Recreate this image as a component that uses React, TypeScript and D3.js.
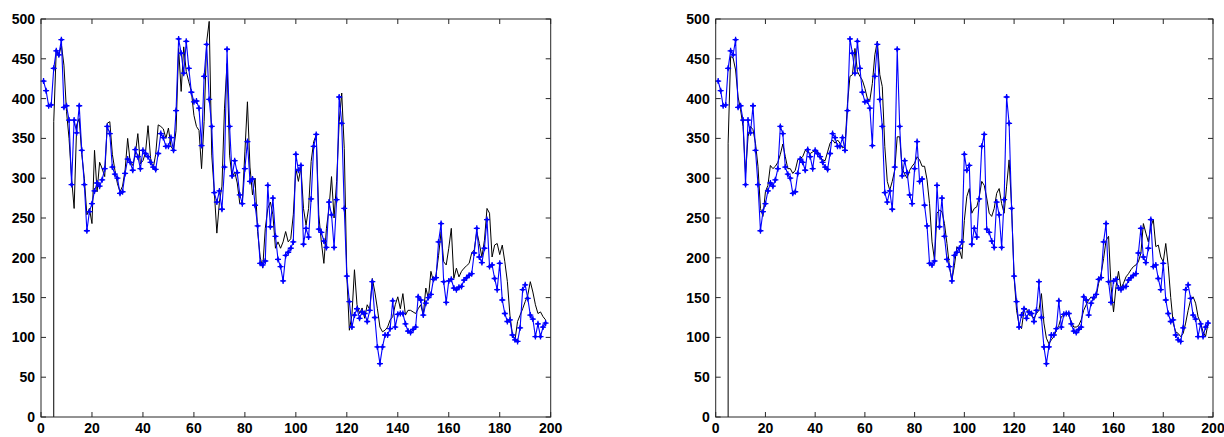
import React from "react";
import * as d3 from "d3";

// x tick labels and y tick labels
const xTickLabels = [0, 20, 40, 60, 80, 100, 120, 140, 160, 180, 200];
const yTickLabels = [0, 50, 100, 150, 200, 250, 300, 350, 400, 450, 500];

// Observed series (blue, x = 1..198), same in both panels
const blueValues = [
  422, 410, 391, 392, 438, 460, 455, 474, 389, 391,
  373, 292, 373, 357, 391, 335, 292, 234, 258, 268,
  284, 294, 290, 298, 312, 365, 356, 314, 305, 300,
  281, 283, 306, 324, 320, 310, 336, 327, 312, 335,
  331, 327, 320, 314, 311, 331, 356, 351, 340, 340,
  351, 335, 385, 475, 457, 432, 472, 438, 408, 396,
  397, 388, 341, 428, 468, 399, 365, 282, 270, 284,
  261, 314, 462, 365, 303, 322, 307, 279, 268, 312,
  346, 296, 299, 266, 240, 193, 191, 196, 291, 239,
  275, 227, 198, 189, 171, 203, 207, 212, 220, 330,
  310, 316, 217, 237, 226, 274, 340, 355, 236, 232,
  221, 213, 270, 254, 213, 273, 402, 369, 262, 177,
  145, 113, 128, 136, 124, 132, 130, 120, 134, 170,
  125, 88, 67, 88, 103, 103, 111, 146, 113, 129,
  130, 130, 117, 108, 106, 110, 113, 151, 147, 128,
  143, 150, 154, 173, 175, 220, 243, 170, 144, 171,
  173, 162, 160, 163, 164, 172, 175, 178, 180, 206,
  237, 201, 194, 212, 248, 189, 191, 174, 160, 193,
  147, 130, 120, 122, 103, 97, 95, 112, 160, 166,
  149, 128, 123, 101, 117, 101, 113, 118,
];

// Model output (black), x = 5..198; each line rises from 0 at its first x
const blackStartX = 5;
const blackLeftValues = [
  371, 462, 453, 468, 442, 384, 350, 300, 262, 367,
  375, 330, 300, 254, 262, 243, 335, 283, 320, 312,
  302, 369, 371, 330, 310, 293, 283, 290, 310, 350,
  320, 316, 330, 356, 318, 322, 332, 366, 325, 312,
  330, 367, 365, 362, 350, 363, 340, 335, 360, 463,
  409, 465, 434, 421, 409, 379, 365, 360, 312, 371,
  471, 497, 329, 283, 231, 270, 290, 388, 444, 329,
  300, 308, 294, 268, 270, 333, 396, 314, 279, 300,
  233, 201, 187, 237, 262, 270, 254, 212, 220, 212,
  220, 233, 220, 224, 254, 312, 296, 314, 262, 241,
  262, 321, 346, 354, 254, 220, 193, 237, 262, 302,
  250, 296, 371, 407, 337, 178, 109, 128, 185, 141,
  130, 137, 124, 141, 135, 174, 157, 136, 113, 107,
  109, 113, 122, 126, 141, 151, 136, 155, 128, 134,
  134, 132, 130, 136, 141, 128, 162, 149, 183, 170,
  178, 203, 233, 195, 191, 212, 237, 174, 187, 176,
  183, 187, 190, 193, 206, 210, 233, 218, 201, 222,
  262, 256, 201, 216, 218, 204, 216, 195, 170, 128,
  103, 97, 120, 128, 136, 145, 153, 170, 157, 141,
  130, 132, 126, 122,
];
const blackRightValues = [
  344, 453, 451, 436, 402, 386, 365, 306, 352, 365,
  361, 344, 315, 262, 252, 283, 291, 316, 312, 315,
  320, 330, 343, 327, 312, 312, 306, 310, 323, 325,
  327, 335, 333, 331, 333, 335, 333, 327, 323, 322,
  333, 344, 348, 344, 348, 344, 338, 340, 394, 428,
  430, 463, 434, 428, 423, 413, 400, 398, 419, 455,
  472, 430, 415, 340, 296, 285, 296, 310, 352, 352,
  312, 305, 300, 310, 315, 319, 327, 323, 315, 315,
  298, 268, 220, 197, 256, 260, 258, 243, 218, 189,
  172, 190, 214, 210, 199, 247, 277, 287, 256, 262,
  264, 277, 296, 291, 275, 256, 252, 262, 281, 287,
  268, 256, 290, 323, 264, 176, 134, 116, 111, 134,
  136, 128, 128, 124, 130, 134, 155, 118, 99, 92,
  97, 101, 109, 115, 126, 128, 130, 128, 120, 113,
  113, 115, 122, 134, 141, 147, 151, 147, 151, 168,
  180, 199, 222, 227, 164, 132, 164, 183, 162, 168,
  176, 180, 185, 189, 191, 195, 206, 243, 231, 220,
  239, 248, 214, 216, 201, 195, 218, 190, 150, 118,
  107, 105, 101, 105, 118, 134, 147, 151, 143, 126,
  118, 107, 101, 117,
];

const W = 1224;
const H = 437;
const TOP = 19;
const BOTTOM = 417;
const FONT = "'Liberation Sans', Arial, sans-serif";

type PanelProps = { left: number; right: number; black: number[] };

function Panel({ left, right, black }: PanelProps) {
  const x = d3.scaleLinear().domain([0, 200]).range([left, right]);
  const y = d3.scaleLinear().domain([0, 500]).range([BOTTOM, TOP]);

  const bluePts: [number, number][] = blueValues.map((v, i) => [i + 1, v]);
  const blackPts: [number, number][] = [
    [blackStartX, 0],
    ...black.map((v, i) => [blackStartX + i, v] as [number, number]),
  ];
  const line = d3
    .line<[number, number]>()
    .x((d) => x(d[0]))
    .y((d) => y(d[1]));

  const tickLen = 5;
  return (
    <g>
      <rect x={left} y={TOP} width={right - left} height={BOTTOM - TOP} fill="#fff" />
      <path d={line(blackPts) || ""} fill="none" stroke="#000" strokeWidth={1} />
      <path d={line(bluePts) || ""} fill="none" stroke="#0000ff" strokeWidth={1.1} />
      {bluePts.map((d, i) => (
        <g key={i} transform={`translate(${x(d[0])},${y(d[1])})`}>
          <path d="M-3,0H3M0,-3V3" stroke="#0000ff" strokeWidth={1.3} />
          <path d="M0,-2.2L2.2,0L0,2.2L-2.2,0Z" fill="#0000ff" />
        </g>
      ))}
      <rect
        x={left}
        y={TOP}
        width={right - left}
        height={BOTTOM - TOP}
        fill="none"
        stroke="#262626"
        strokeWidth={1}
      />
      {xTickLabels.map((t) => (
        <g key={"x" + t}>
          <line x1={x(t)} x2={x(t)} y1={BOTTOM} y2={BOTTOM - tickLen} stroke="#262626" />
          <line x1={x(t)} x2={x(t)} y1={TOP} y2={TOP + tickLen} stroke="#262626" />
          <text
            x={x(t)}
            y={BOTTOM + 16}
            textAnchor="middle"
            fontFamily={FONT}
            fontSize={14}
            fontWeight="bold"
            fill="#000"
          >
            {t}
          </text>
        </g>
      ))}
      {yTickLabels.map((t) => (
        <g key={"y" + t}>
          <line x1={left} x2={left + tickLen} y1={y(t)} y2={y(t)} stroke="#262626" />
          <line x1={right} x2={right - tickLen} y1={y(t)} y2={y(t)} stroke="#262626" />
          <text
            x={left - 6}
            y={y(t) + 5}
            textAnchor="end"
            fontFamily={FONT}
            fontSize={14}
            fontWeight="bold"
            fill="#000"
          >
            {t}
          </text>
        </g>
      ))}
    </g>
  );
}

export default function App() {
  return (
    <svg
      width={W}
      height={H}
      viewBox={`0 0 ${W} ${H}`}
      style={{ position: "absolute", left: 0, top: 0, background: "#fff" }}
    >
      <rect width={W} height={H} fill="#fff" />
      <Panel left={41} right={550.7} black={blackLeftValues} />
      <Panel left={715.7} right={1213} black={blackRightValues} />
    </svg>
  );
}
